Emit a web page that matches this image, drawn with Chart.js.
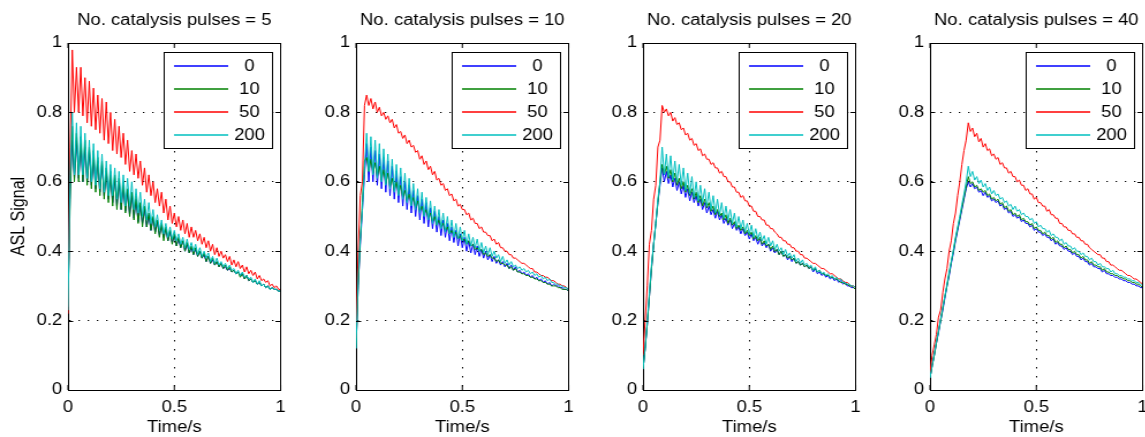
<!DOCTYPE html>
<html>
<head>
<meta charset="utf-8">
<title>ASL signal vs catalysis pulses</title>
<script src="https://cdn.jsdelivr.net/npm/chart.js@4.4.0/dist/chart.umd.min.js"></script>
<style>
  html, body { margin: 0; padding: 0; background: #fff; }
  body { width: 1145px; height: 437px; overflow: hidden; position: relative; }
  canvas { position: absolute; top: 0; }
</style>
</head>
<body>
<canvas id="panel0"></canvas>
<canvas id="panel1"></canvas>
<canvas id="panel2"></canvas>
<canvas id="panel3"></canvas>
<script>
// sample times (s), shared by every panel
const time = [
  0.00, 0.01, 0.02, 0.03, 0.04, 0.05, 0.06, 0.07, 0.08, 0.09,
  0.10, 0.11, 0.12, 0.13, 0.14, 0.15, 0.16, 0.17, 0.18, 0.19,
  0.20, 0.21, 0.22, 0.23, 0.24, 0.25, 0.26, 0.27, 0.28, 0.29,
  0.30, 0.31, 0.32, 0.33, 0.34, 0.35, 0.36, 0.37, 0.38, 0.39,
  0.40, 0.41, 0.42, 0.43, 0.44, 0.45, 0.46, 0.47, 0.48, 0.49,
  0.50, 0.51, 0.52, 0.53, 0.54, 0.55, 0.56, 0.57, 0.58, 0.59,
  0.60, 0.61, 0.62, 0.63, 0.64, 0.65, 0.66, 0.67, 0.68, 0.69,
  0.70, 0.71, 0.72, 0.73, 0.74, 0.75, 0.76, 0.77, 0.78, 0.79,
  0.80, 0.81, 0.82, 0.83, 0.84, 0.85, 0.86, 0.87, 0.88, 0.89,
  0.90, 0.91, 0.92, 0.93, 0.94, 0.95, 0.96, 0.97, 0.98, 0.99,
  1.00
];

const pulseCounts = [5, 10, 20, 40];
const seriesNames = ['0', '10', '50', '200'];
const seriesColors = ['#0000ff', '#008000', '#ff0000', '#00bfbf'];

// ---- 5 catalysis pulses ----
const sig5_0 = [
  0.24, 0.58, 0.72, 0.61, 0.72, 0.61, 0.71, 0.60, 0.70, 0.60,
  0.69, 0.59, 0.67, 0.58, 0.66, 0.57, 0.65, 0.56, 0.63, 0.55,
  0.62, 0.54, 0.61, 0.53, 0.60, 0.52, 0.59, 0.515, 0.57, 0.505,
  0.56, 0.495, 0.55, 0.485, 0.53, 0.48, 0.52, 0.47, 0.505, 0.46,
  0.495, 0.455, 0.485, 0.445, 0.475, 0.44, 0.465, 0.43, 0.455, 0.425,
  0.445, 0.415, 0.435, 0.41, 0.43, 0.40, 0.42, 0.395, 0.41, 0.39,
  0.405, 0.385, 0.40, 0.38, 0.39, 0.37, 0.385, 0.365, 0.375, 0.36,
  0.37, 0.355, 0.365, 0.35, 0.355, 0.345, 0.35, 0.34, 0.345, 0.335,
  0.34, 0.33, 0.335, 0.32, 0.33, 0.315, 0.32, 0.31, 0.315, 0.305,
  0.31, 0.30, 0.305, 0.295, 0.30, 0.29, 0.295, 0.29, 0.29, 0.285,
  0.285
];
const sig5_10 = [
  0.24, 0.55, 0.76, 0.60, 0.74, 0.60, 0.73, 0.60, 0.72, 0.59,
  0.70, 0.58, 0.69, 0.57, 0.67, 0.56, 0.66, 0.55, 0.64, 0.54,
  0.63, 0.53, 0.62, 0.52, 0.61, 0.52, 0.60, 0.51, 0.58, 0.50,
  0.57, 0.49, 0.56, 0.48, 0.54, 0.47, 0.53, 0.47, 0.51, 0.46,
  0.50, 0.45, 0.49, 0.44, 0.48, 0.43, 0.47, 0.43, 0.46, 0.42,
  0.45, 0.415, 0.44, 0.41, 0.43, 0.40, 0.425, 0.395, 0.415, 0.39,
  0.41, 0.385, 0.40, 0.38, 0.395, 0.37, 0.385, 0.365, 0.38, 0.36,
  0.37, 0.355, 0.365, 0.35, 0.36, 0.345, 0.355, 0.34, 0.345, 0.335,
  0.34, 0.325, 0.335, 0.32, 0.33, 0.315, 0.32, 0.31, 0.315, 0.305,
  0.31, 0.30, 0.305, 0.295, 0.30, 0.29, 0.295, 0.29, 0.29, 0.285,
  0.285
];
const sig5_50 = [
  0.22, 0.70, 0.98, 0.80, 0.93, 0.80, 0.93, 0.79, 0.90, 0.77,
  0.89, 0.76, 0.87, 0.75, 0.85, 0.74, 0.84, 0.72, 0.83, 0.71,
  0.80, 0.69, 0.78, 0.68, 0.76, 0.67, 0.74, 0.65, 0.72, 0.63,
  0.69, 0.62, 0.68, 0.61, 0.66, 0.59, 0.64, 0.57, 0.62, 0.56,
  0.60, 0.54, 0.58, 0.53, 0.57, 0.51, 0.55, 0.49, 0.53, 0.48,
  0.51, 0.47, 0.50, 0.46, 0.49, 0.45, 0.48, 0.44, 0.47, 0.44,
  0.46, 0.43, 0.45, 0.42, 0.44, 0.41, 0.43, 0.40, 0.42, 0.39,
  0.41, 0.385, 0.40, 0.38, 0.39, 0.37, 0.385, 0.36, 0.375, 0.355,
  0.37, 0.35, 0.36, 0.34, 0.355, 0.335, 0.345, 0.33, 0.34, 0.32,
  0.33, 0.315, 0.32, 0.31, 0.315, 0.30, 0.305, 0.295, 0.30, 0.29,
  0.29
];
const sig5_200 = [
  0.23, 0.62, 0.80, 0.62, 0.77, 0.62, 0.76, 0.62, 0.74, 0.61,
  0.72, 0.60, 0.71, 0.59, 0.69, 0.58, 0.68, 0.57, 0.66, 0.56,
  0.65, 0.56, 0.64, 0.55, 0.63, 0.54, 0.62, 0.53, 0.61, 0.53,
  0.60, 0.52, 0.58, 0.51, 0.57, 0.50, 0.55, 0.49, 0.54, 0.48,
  0.52, 0.47, 0.505, 0.46, 0.49, 0.45, 0.48, 0.44, 0.47, 0.435,
  0.46, 0.43, 0.45, 0.42, 0.44, 0.41, 0.435, 0.405, 0.425, 0.40,
  0.42, 0.39, 0.41, 0.385, 0.40, 0.38, 0.395, 0.37, 0.385, 0.365,
  0.38, 0.36, 0.37, 0.355, 0.365, 0.35, 0.36, 0.345, 0.35, 0.335,
  0.345, 0.33, 0.34, 0.325, 0.33, 0.32, 0.325, 0.31, 0.32, 0.305,
  0.315, 0.30, 0.305, 0.295, 0.30, 0.29, 0.295, 0.29, 0.29, 0.285,
  0.285
];

// ---- 10 catalysis pulses ----
const sig10_0 = [
  0.12, 0.30, 0.42, 0.52, 0.62, 0.71, 0.60, 0.70, 0.60, 0.69,
  0.59, 0.68, 0.58, 0.67, 0.57, 0.66, 0.56, 0.645, 0.55, 0.63,
  0.54, 0.615, 0.53, 0.60, 0.52, 0.59, 0.51, 0.575, 0.50, 0.56,
  0.49, 0.55, 0.48, 0.54, 0.47, 0.525, 0.465, 0.515, 0.455, 0.50,
  0.445, 0.49, 0.44, 0.48, 0.43, 0.47, 0.425, 0.46, 0.415, 0.45,
  0.41, 0.44, 0.40, 0.43, 0.395, 0.42, 0.39, 0.415, 0.385, 0.405,
  0.38, 0.40, 0.375, 0.39, 0.37, 0.385, 0.365, 0.375, 0.36, 0.37,
  0.355, 0.365, 0.35, 0.36, 0.345, 0.355, 0.34, 0.345, 0.335, 0.34,
  0.33, 0.335, 0.325, 0.33, 0.32, 0.325, 0.315, 0.32, 0.31, 0.315,
  0.305, 0.31, 0.30, 0.305, 0.30, 0.30, 0.295, 0.295, 0.29, 0.29,
  0.285
];
const sig10_10 = [
  0.12, 0.30, 0.43, 0.54, 0.66, 0.67, 0.63, 0.665, 0.625, 0.655,
  0.615, 0.645, 0.605, 0.635, 0.595, 0.625, 0.585, 0.61, 0.575, 0.60,
  0.565, 0.59, 0.555, 0.575, 0.545, 0.565, 0.535, 0.555, 0.525, 0.545,
  0.515, 0.53, 0.505, 0.52, 0.495, 0.51, 0.485, 0.50, 0.475, 0.49,
  0.47, 0.48, 0.46, 0.47, 0.45, 0.46, 0.445, 0.455, 0.435, 0.445,
  0.43, 0.435, 0.42, 0.43, 0.415, 0.42, 0.405, 0.41, 0.40, 0.405,
  0.39, 0.395, 0.385, 0.39, 0.38, 0.38, 0.37, 0.375, 0.365, 0.365,
  0.36, 0.36, 0.35, 0.355, 0.345, 0.35, 0.34, 0.34, 0.335, 0.335,
  0.33, 0.33, 0.325, 0.325, 0.32, 0.32, 0.315, 0.315, 0.31, 0.31,
  0.305, 0.305, 0.30, 0.30, 0.30, 0.295, 0.295, 0.29, 0.29, 0.29,
  0.285
];
const sig10_50 = [
  0.15, 0.40, 0.56, 0.60, 0.82, 0.85, 0.82, 0.84, 0.81, 0.83,
  0.80, 0.815, 0.79, 0.80, 0.78, 0.79, 0.77, 0.78, 0.755, 0.765,
  0.74, 0.745, 0.725, 0.735, 0.71, 0.72, 0.70, 0.705, 0.685, 0.69,
  0.665, 0.675, 0.65, 0.66, 0.635, 0.645, 0.62, 0.63, 0.605, 0.61,
  0.59, 0.595, 0.575, 0.58, 0.56, 0.565, 0.545, 0.55, 0.53, 0.535,
  0.52, 0.52, 0.505, 0.51, 0.49, 0.495, 0.48, 0.48, 0.465, 0.47,
  0.455, 0.455, 0.445, 0.445, 0.43, 0.435, 0.42, 0.425, 0.41, 0.41,
  0.40, 0.40, 0.39, 0.39, 0.38, 0.38, 0.375, 0.37, 0.365, 0.365,
  0.36, 0.355, 0.35, 0.35, 0.34, 0.34, 0.335, 0.33, 0.33, 0.325,
  0.325, 0.32, 0.315, 0.315, 0.31, 0.305, 0.305, 0.30, 0.30, 0.295,
  0.29
];
const sig10_200 = [
  0.12, 0.32, 0.44, 0.52, 0.64, 0.74, 0.63, 0.73, 0.62, 0.72,
  0.61, 0.71, 0.60, 0.695, 0.59, 0.68, 0.58, 0.665, 0.57, 0.65,
  0.56, 0.64, 0.55, 0.625, 0.54, 0.61, 0.53, 0.595, 0.52, 0.58,
  0.51, 0.57, 0.50, 0.555, 0.49, 0.545, 0.48, 0.53, 0.475, 0.52,
  0.465, 0.51, 0.455, 0.50, 0.45, 0.49, 0.44, 0.48, 0.435, 0.47,
  0.43, 0.46, 0.42, 0.45, 0.415, 0.44, 0.41, 0.435, 0.40, 0.425,
  0.395, 0.415, 0.39, 0.41, 0.385, 0.40, 0.38, 0.39, 0.37, 0.385,
  0.365, 0.375, 0.36, 0.37, 0.355, 0.36, 0.35, 0.355, 0.345, 0.35,
  0.34, 0.345, 0.335, 0.34, 0.33, 0.335, 0.325, 0.33, 0.32, 0.325,
  0.315, 0.32, 0.31, 0.31, 0.305, 0.305, 0.30, 0.30, 0.295, 0.295,
  0.29
];

// ---- 20 catalysis pulses ----
const sig20_0 = [
  0.06, 0.12, 0.19, 0.27, 0.35, 0.42, 0.48, 0.54, 0.59, 0.64,
  0.60, 0.63, 0.595, 0.62, 0.585, 0.61, 0.575, 0.60, 0.565, 0.59,
  0.555, 0.58, 0.545, 0.57, 0.54, 0.56, 0.53, 0.55, 0.52, 0.54,
  0.51, 0.53, 0.505, 0.52, 0.495, 0.515, 0.49, 0.505, 0.48, 0.495,
  0.475, 0.49, 0.465, 0.48, 0.46, 0.47, 0.45, 0.465, 0.445, 0.455,
  0.435, 0.45, 0.43, 0.44, 0.42, 0.435, 0.415, 0.425, 0.41, 0.42,
  0.40, 0.41, 0.395, 0.405, 0.39, 0.40, 0.385, 0.39, 0.375, 0.385,
  0.37, 0.38, 0.365, 0.37, 0.36, 0.365, 0.355, 0.36, 0.35, 0.355,
  0.34, 0.35, 0.335, 0.34, 0.33, 0.335, 0.325, 0.33, 0.32, 0.325,
  0.315, 0.32, 0.31, 0.315, 0.305, 0.31, 0.30, 0.30, 0.295, 0.295,
  0.29
];
const sig20_10 = [
  0.06, 0.12, 0.19, 0.27, 0.35, 0.42, 0.48, 0.54, 0.60, 0.65,
  0.62, 0.645, 0.61, 0.635, 0.60, 0.625, 0.59, 0.61, 0.58, 0.60,
  0.57, 0.59, 0.56, 0.58, 0.55, 0.57, 0.54, 0.56, 0.53, 0.55,
  0.525, 0.54, 0.515, 0.53, 0.505, 0.52, 0.50, 0.51, 0.49, 0.505,
  0.48, 0.495, 0.475, 0.485, 0.465, 0.475, 0.46, 0.47, 0.45, 0.46,
  0.445, 0.455, 0.435, 0.445, 0.43, 0.44, 0.42, 0.43, 0.415, 0.42,
  0.405, 0.415, 0.40, 0.405, 0.39, 0.40, 0.385, 0.39, 0.38, 0.385,
  0.375, 0.38, 0.365, 0.37, 0.36, 0.365, 0.355, 0.36, 0.35, 0.355,
  0.345, 0.35, 0.34, 0.345, 0.335, 0.335, 0.33, 0.33, 0.325, 0.325,
  0.32, 0.32, 0.315, 0.31, 0.31, 0.305, 0.305, 0.30, 0.30, 0.295,
  0.29
];
const sig20_50 = [
  0.10, 0.20, 0.30, 0.42, 0.46, 0.55, 0.59, 0.70, 0.72, 0.82,
  0.80, 0.81, 0.79, 0.80, 0.775, 0.785, 0.765, 0.77, 0.75, 0.755,
  0.735, 0.74, 0.72, 0.725, 0.705, 0.71, 0.69, 0.695, 0.675, 0.68,
  0.665, 0.665, 0.65, 0.655, 0.64, 0.64, 0.625, 0.63, 0.615, 0.615,
  0.60, 0.60, 0.585, 0.585, 0.57, 0.57, 0.555, 0.56, 0.545, 0.545,
  0.53, 0.53, 0.515, 0.515, 0.50, 0.50, 0.49, 0.49, 0.475, 0.475,
  0.465, 0.465, 0.455, 0.45, 0.44, 0.44, 0.43, 0.43, 0.42, 0.42,
  0.41, 0.41, 0.40, 0.40, 0.39, 0.39, 0.38, 0.38, 0.375, 0.37,
  0.365, 0.365, 0.36, 0.355, 0.35, 0.35, 0.345, 0.34, 0.335, 0.335,
  0.33, 0.325, 0.32, 0.32, 0.315, 0.31, 0.31, 0.305, 0.30, 0.30,
  0.295
];
const sig20_200 = [
  0.06, 0.12, 0.20, 0.28, 0.36, 0.42, 0.48, 0.55, 0.60, 0.70,
  0.62, 0.68, 0.615, 0.675, 0.605, 0.66, 0.60, 0.65, 0.59, 0.64,
  0.575, 0.625, 0.565, 0.615, 0.555, 0.60, 0.545, 0.59, 0.54, 0.58,
  0.53, 0.57, 0.52, 0.56, 0.51, 0.55, 0.505, 0.54, 0.495, 0.53,
  0.49, 0.52, 0.48, 0.51, 0.47, 0.50, 0.465, 0.49, 0.455, 0.48,
  0.45, 0.475, 0.44, 0.465, 0.435, 0.455, 0.43, 0.445, 0.42, 0.44,
  0.415, 0.43, 0.405, 0.42, 0.40, 0.41, 0.39, 0.405, 0.385, 0.395,
  0.38, 0.39, 0.37, 0.38, 0.365, 0.375, 0.36, 0.365, 0.355, 0.36,
  0.345, 0.355, 0.34, 0.345, 0.335, 0.34, 0.33, 0.335, 0.325, 0.33,
  0.32, 0.325, 0.315, 0.32, 0.31, 0.31, 0.305, 0.305, 0.30, 0.30,
  0.295
];

// ---- 40 catalysis pulses ----
const sig40_0 = [
  0.035, 0.07, 0.10, 0.135, 0.165, 0.20, 0.23, 0.265, 0.30, 0.33,
  0.365, 0.395, 0.43, 0.46, 0.49, 0.52, 0.55, 0.58, 0.60, 0.585,
  0.595, 0.58, 0.585, 0.57, 0.575, 0.56, 0.57, 0.555, 0.56, 0.545,
  0.55, 0.54, 0.545, 0.53, 0.535, 0.52, 0.525, 0.51, 0.515, 0.50,
  0.505, 0.495, 0.50, 0.485, 0.49, 0.48, 0.48, 0.47, 0.475, 0.46,
  0.465, 0.455, 0.455, 0.445, 0.45, 0.44, 0.44, 0.43, 0.435, 0.42,
  0.425, 0.415, 0.415, 0.405, 0.41, 0.40, 0.40, 0.39, 0.395, 0.385,
  0.385, 0.375, 0.38, 0.37, 0.37, 0.36, 0.365, 0.355, 0.355, 0.35,
  0.35, 0.34, 0.345, 0.335, 0.335, 0.33, 0.33, 0.325, 0.325, 0.32,
  0.32, 0.315, 0.315, 0.31, 0.31, 0.305, 0.305, 0.30, 0.30, 0.295,
  0.295
];
const sig40_10 = [
  0.035, 0.07, 0.10, 0.135, 0.17, 0.20, 0.235, 0.27, 0.30, 0.335,
  0.37, 0.40, 0.435, 0.465, 0.495, 0.525, 0.555, 0.585, 0.615, 0.595,
  0.60, 0.585, 0.59, 0.575, 0.58, 0.57, 0.575, 0.56, 0.565, 0.55,
  0.555, 0.545, 0.55, 0.535, 0.54, 0.525, 0.53, 0.515, 0.52, 0.505,
  0.51, 0.50, 0.505, 0.49, 0.495, 0.485, 0.485, 0.475, 0.48, 0.465,
  0.47, 0.46, 0.46, 0.45, 0.455, 0.445, 0.445, 0.435, 0.44, 0.425,
  0.43, 0.42, 0.42, 0.41, 0.415, 0.405, 0.405, 0.395, 0.40, 0.39,
  0.39, 0.38, 0.385, 0.375, 0.375, 0.365, 0.37, 0.36, 0.36, 0.355,
  0.355, 0.345, 0.35, 0.34, 0.34, 0.335, 0.335, 0.33, 0.33, 0.325,
  0.325, 0.32, 0.32, 0.315, 0.315, 0.31, 0.31, 0.305, 0.305, 0.30,
  0.295
];
const sig40_50 = [
  0.05, 0.10, 0.13, 0.16, 0.21, 0.23, 0.28, 0.32, 0.35, 0.40,
  0.43, 0.48, 0.51, 0.56, 0.60, 0.65, 0.69, 0.72, 0.77, 0.745,
  0.755, 0.73, 0.74, 0.715, 0.725, 0.70, 0.71, 0.69, 0.695, 0.675,
  0.68, 0.665, 0.67, 0.65, 0.655, 0.64, 0.64, 0.625, 0.63, 0.615,
  0.615, 0.60, 0.605, 0.59, 0.59, 0.575, 0.58, 0.565, 0.565, 0.55,
  0.555, 0.54, 0.54, 0.53, 0.53, 0.515, 0.52, 0.505, 0.505, 0.495,
  0.495, 0.48, 0.48, 0.47, 0.47, 0.46, 0.46, 0.45, 0.45, 0.44,
  0.44, 0.43, 0.43, 0.42, 0.42, 0.41, 0.405, 0.40, 0.395, 0.39,
  0.39, 0.38, 0.38, 0.37, 0.37, 0.36, 0.36, 0.355, 0.35, 0.345,
  0.345, 0.34, 0.335, 0.33, 0.33, 0.325, 0.32, 0.32, 0.315, 0.31,
  0.305
];
const sig40_200 = [
  0.035, 0.07, 0.105, 0.14, 0.17, 0.205, 0.24, 0.27, 0.305, 0.34,
  0.37, 0.405, 0.44, 0.47, 0.50, 0.535, 0.565, 0.60, 0.645, 0.615,
  0.63, 0.605, 0.615, 0.595, 0.605, 0.585, 0.595, 0.575, 0.585, 0.565,
  0.575, 0.56, 0.565, 0.55, 0.555, 0.54, 0.545, 0.53, 0.535, 0.52,
  0.53, 0.515, 0.52, 0.505, 0.51, 0.50, 0.50, 0.49, 0.495, 0.48,
  0.485, 0.47, 0.475, 0.465, 0.465, 0.455, 0.46, 0.445, 0.45, 0.44,
  0.44, 0.43, 0.435, 0.42, 0.425, 0.415, 0.415, 0.405, 0.41, 0.40,
  0.40, 0.39, 0.395, 0.385, 0.385, 0.375, 0.38, 0.37, 0.37, 0.36,
  0.365, 0.355, 0.355, 0.35, 0.35, 0.34, 0.345, 0.335, 0.335, 0.33,
  0.33, 0.325, 0.325, 0.32, 0.32, 0.315, 0.315, 0.31, 0.31, 0.305,
  0.30
];

const panelSignals = [
  [sig5_0, sig5_10, sig5_50, sig5_200],
  [sig10_0, sig10_10, sig10_50, sig10_200],
  [sig20_0, sig20_10, sig20_50, sig20_200],
  [sig40_0, sig40_10, sig40_50, sig40_200]
];

// layout: every canvas is drawn narrow and widened sideways by STRETCH
const STRETCH = 1.15;
const AXIS_W = 59;      // y axis strip (canvas px)
const PLOT_W = 187;     // plot area width (canvas px)
const PAD_R = 10;
const PLOT_TOP = 43;
const XAXIS_H = 47;
const H = 437;
const panelLeft = [68, 356, 643, 930];   // page px of each plot's left edge

const FONT = '"Liberation Sans", Arial, Helvetica, sans-serif';
Chart.defaults.font.family = FONT;
Chart.defaults.font.size = 16;
Chart.defaults.color = '#000';

// tick text like "0", "0.2", "1" (no trailing zeros)
const plainTick = v => String(Number(v.toFixed(2)));

// box around the axes, inward ticks, title and the boxed legend
const framePlugin = {
    id: 'frame',
    afterDraw(chart, args, opts) {
        const { ctx, chartArea: a, scales: { x, y } } = chart;
        ctx.save();
        ctx.strokeStyle = '#000';
        ctx.lineWidth = 1;
        const top = Math.round(a.top) + 0.5;
        const right = Math.round(a.right) - 0.5;
        ctx.beginPath();
        ctx.moveTo(a.left, top);
        ctx.lineTo(right, top);
        ctx.lineTo(right, a.bottom);
        ctx.stroke();

        ctx.beginPath();
        x.ticks.forEach(t => {
            const px = x.getPixelForValue(t.value);
            ctx.moveTo(px, a.bottom);
            ctx.lineTo(px, a.bottom - 5);
            ctx.moveTo(px, a.top);
            ctx.lineTo(px, a.top + 5);
        });
        y.ticks.forEach(t => {
            const py = Math.round(y.getPixelForValue(t.value)) + 0.5;
            ctx.moveTo(a.left, py);
            ctx.lineTo(a.left + 4.5, py);
            ctx.moveTo(a.right, py);
            ctx.lineTo(a.right - 4.5, py);
        });
        ctx.stroke();

        // title
        ctx.fillStyle = '#000';
        ctx.font = '16px ' + FONT;
        ctx.textAlign = 'center';
        ctx.textBaseline = 'middle';
        ctx.fillText(opts.title, (a.left + a.right) / 2, 21);

        // legend
        const boxW = 94, boxH = 96;
        const bx = Math.round(a.right - 8 - boxW) + 0.5;
        const by = Math.round(a.top + 9) + 0.5;
        ctx.fillStyle = '#fff';
        ctx.fillRect(bx, by, boxW, boxH);
        ctx.strokeStyle = '#000';
        ctx.strokeRect(bx, by, boxW, boxH);
        chart.data.datasets.forEach((ds, i) => {
            const ry = Math.round(by + 13.5 + i * 23);
            ctx.strokeStyle = ds.borderColor;
            ctx.lineWidth = 1.5;
            ctx.beginPath();
            ctx.moveTo(bx + 8.5, ry);
            ctx.lineTo(bx + 55.5, ry);
            ctx.stroke();
            ctx.fillStyle = '#000';
            ctx.fillText(ds.label, bx + 74, ry + 1);
        });
        ctx.restore();
    }
};

function transparentAtEdges(ctx) {
    const v = ctx.tick ? ctx.tick.value : null;
    return (v === 0 || v === 1) ? 'rgba(0,0,0,0)' : '#000';
}

function buildPanel(idx) {
    const canvas = document.getElementById('panel' + idx);
    const cw = AXIS_W + PLOT_W + PAD_R;
    canvas.width = cw;
    canvas.height = H;
    canvas.style.width = (cw * STRETCH) + 'px';
    canvas.style.height = H + 'px';
    canvas.style.left = (panelLeft[idx] - AXIS_W * STRETCH) + 'px';

    const datasets = seriesNames.map((name, k) => ({
        label: name,
        data: time.map((t, i) => ({ x: t, y: panelSignals[idx][k][i] })),
        borderColor: seriesColors[k],
        borderWidth: 1,
        pointRadius: 0,
        tension: 0,
        fill: false,
        order: seriesNames.length - k
    }));

    new Chart(canvas, {
        type: 'line',
        data: { datasets },
        options: {
            responsive: false,
            animation: false,
            devicePixelRatio: 1,
            layout: { padding: { top: PLOT_TOP, right: PAD_R, bottom: 0, left: 0 } },
            plugins: {
                legend: { display: false },
                tooltip: { enabled: false },
                frame: { title: 'No. catalysis pulses = ' + pulseCounts[idx] }
            },
            scales: {
                x: {
                    type: 'linear',
                    min: 0,
                    max: 1,
                    afterFit: s => { s.height = XAXIS_H; },
                    ticks: { stepSize: 0.5, padding: 8, maxRotation: 0, color: '#000', callback: plainTick },
                    grid: { drawTicks: false, color: transparentAtEdges, lineWidth: 1 },
                    border: { display: true, color: '#000', width: 1, dash: [1.5, 7.5] },
                    title: { display: true, text: 'Time/s', color: '#000', padding: { top: 0, bottom: 0 } }
                },
                y: {
                    type: 'linear',
                    min: 0,
                    max: 1,
                    afterFit: s => { s.width = AXIS_W; },
                    ticks: { stepSize: 0.2, padding: 5, color: '#000', callback: plainTick },
                    grid: { drawTicks: false, color: transparentAtEdges, lineWidth: 1 },
                    border: { display: true, color: '#000', width: 1, dash: [1.3, 6.7] },
                    title: { display: idx === 0, text: 'ASL Signal', color: '#000', padding: { top: 7, bottom: 0 } }
                }
            }
        },
        plugins: [framePlugin]
    });
}

pulseCounts.forEach((n, idx) => buildPanel(idx));
</script>
</body>
</html>
